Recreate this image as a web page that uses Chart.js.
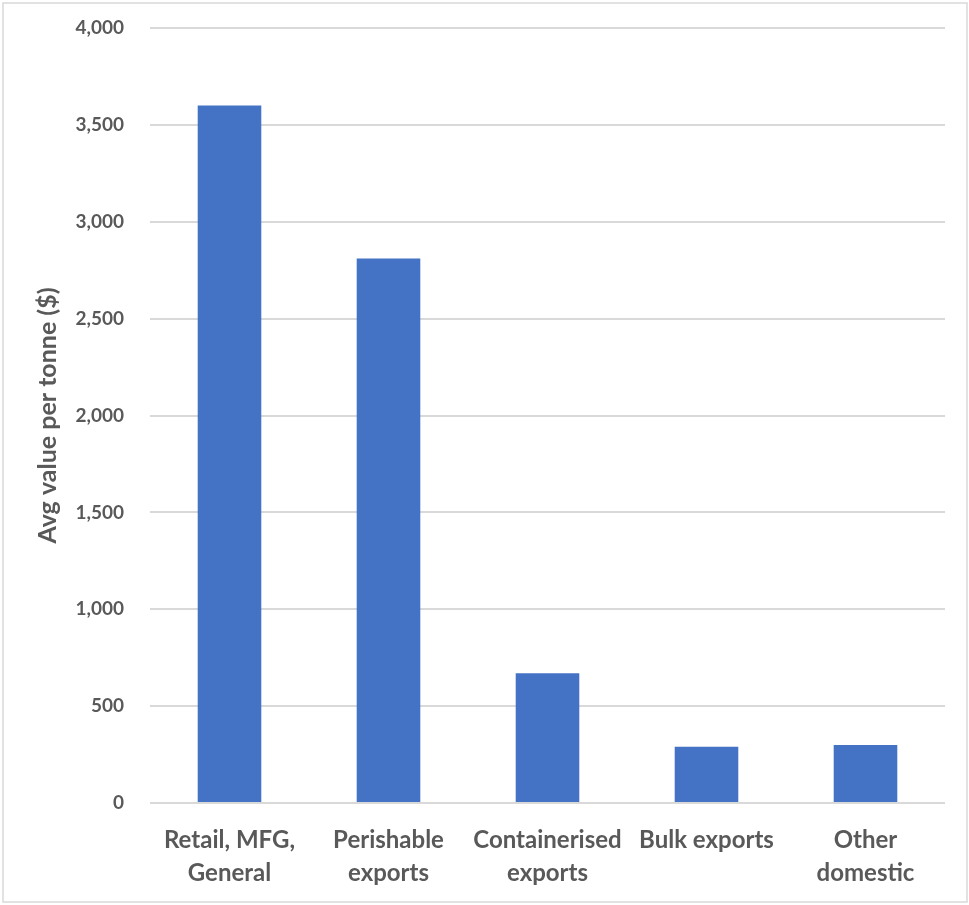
<!DOCTYPE html>
<html>
<head>
<meta charset="utf-8">
<title>Avg value per tonne</title>
<script src="https://cdn.jsdelivr.net/npm/chart.js@4/dist/chart.umd.min.js"></script>
<style>
  html, body { margin: 0; padding: 0; background: #ffffff; }
  #wrap { position: relative; width: 969px; height: 905px; }
</style>
</head>
<body>
<div id="wrap"><canvas id="chart" width="969" height="905"></canvas></div>
<script>
// Freight categories (multi-line labels)
const categories = [
  ['Retail, MFG,', 'General'],
  ['Perishable', 'exports'],
  ['Containerised', 'exports'],
  ['Bulk exports'],
  ['Other', 'domestic']
];
// Average value per tonne, dollars
const avgValuePerTonne = [3600, 2810, 670, 290, 300];
// Value axis range and step
const yAxisMin = 0;
const yAxisMax = 4000;
const yAxisStep = 500;
const yAxisTitle = 'Avg value per tonne ($)';

const textColor = '#595959';
const gridColor = '#d9d9d9';
const barColor = '#4472c4';
const fontFamily = 'Lato, "Open Sans", "Liberation Sans", sans-serif';

// Light frame around the whole chart
const framePlugin = {
  id: 'frame',
  afterDraw(chart) {
    const ctx = chart.ctx;
    ctx.save();
    ctx.strokeStyle = '#d9d9d9';
    ctx.lineWidth = 1.5;
    ctx.strokeRect(3, 3, 964, 899);
    ctx.restore();
  }
};

new Chart(document.getElementById('chart'), {
  type: 'bar',
  data: {
    labels: categories,
    datasets: [{
      data: avgValuePerTonne,
      backgroundColor: barColor,
      borderWidth: 0,
      categoryPercentage: 1.0,
      barPercentage: 0.4
    }]
  },
  options: {
    responsive: false,
    animation: false,
    layout: { padding: { top: 28, right: 24, bottom: 0, left: 0 } },
    plugins: {
      legend: { display: false },
      tooltip: { enabled: false }
    },
    scales: {
      x: {
        grid: { display: false, drawTicks: false },
        border: { display: false },
        ticks: {
          color: textColor,
          font: { family: fontFamily, size: 24, weight: 'bold', lineHeight: 1.4 },
          padding: 20,
          maxRotation: 0,
          autoSkip: false
        },
        afterFit(scale) { scale.height = 102; }
      },
      y: {
        min: yAxisMin,
        max: yAxisMax,
        grid: { color: gridColor, lineWidth: 2, drawTicks: false },
        border: { display: false },
        ticks: {
          stepSize: yAxisStep,
          color: textColor,
          font: { family: fontFamily, size: 19, weight: 'bold' },
          padding: 26,
          callback: v => v.toLocaleString('en-US')
        },
        title: {
          display: true,
          text: yAxisTitle,
          color: textColor,
          font: { family: fontFamily, size: 25, weight: 'bold' },
          padding: { top: 33, bottom: 0 }
        },
        afterFit(scale) {
          scale.width = 150;
          scale.paddingTop = 0;
          scale.paddingBottom = 0;
        }
      }
    }
  },
  plugins: [framePlugin]
});
</script>
</body>
</html>
